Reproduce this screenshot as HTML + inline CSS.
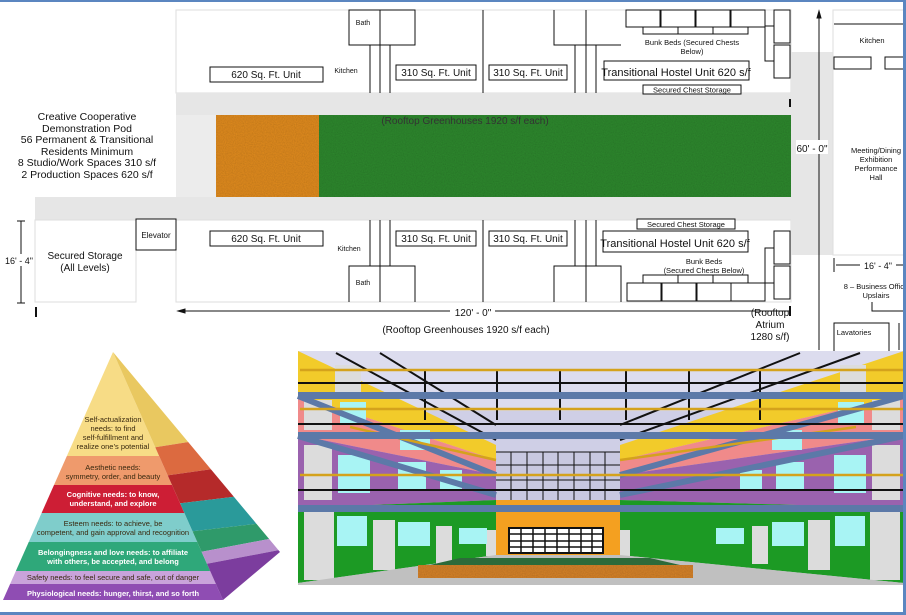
<!DOCTYPE html>
<html><head><meta charset="utf-8"><style>
html,body{margin:0;padding:0;background:#fff;}
svg{display:block;font-family:"Liberation Sans",sans-serif;}
</style></head><body>
<svg width="906" height="615" viewBox="0 0 906 615" xmlns="http://www.w3.org/2000/svg">
<defs>
<filter id="grain" x="0" y="0" width="100%" height="100%"><feTurbulence type="fractalNoise" baseFrequency="0.9" numOctaves="1" seed="3"/><feColorMatrix type="matrix" values="0 0 0 0 0  0 0 0 0 0  0 0 0 0 0  0 0 0 0.35 0"/><feComposite in2="SourceGraphic" operator="in"/><feBlend in="SourceGraphic" mode="multiply"/></filter>
<clipPath id="front"><polygon points="113,352 3,600 223,600"/></clipPath>
<clipPath id="side"><polygon points="113,352 223,600 280,552"/></clipPath>
</defs>
<rect width="906" height="615" fill="#fff"/>

<!-- ===== FLOOR PLAN ===== -->
<g stroke="#111" fill="none" font-size="10">
  <rect x="176" y="10" width="615" height="83" fill="#fff" stroke="#ddd"/>
  <rect x="176" y="93" width="615" height="22" fill="#e6e6e6" stroke="none"/>
  <rect x="176" y="115" width="40" height="82" fill="#ececec" stroke="none"/>
  <rect x="216" y="115" width="103" height="82" fill="#e38d1e" stroke="none" filter="url(#grain)"/>
  <rect x="319" y="115" width="472" height="82" fill="#2f8a2f" stroke="none" filter="url(#grain)"/>
  <text x="465" y="124" font-size="10" fill="#333" stroke="none" text-anchor="middle">(Rooftop Greenhouses 1920 s/f each)</text>
  <rect x="35" y="197" width="756" height="23" fill="#e6e6e6" stroke="none"/>
  <rect x="176" y="220" width="615" height="82" fill="#fff" stroke="#ddd"/>
  <rect x="35" y="220" width="101" height="82" fill="#fff" stroke="#ddd"/>
  <rect x="136" y="219" width="40" height="31" fill="#fff" stroke-width="1"/>
  <text x="156" y="238" font-size="8" fill="#111" stroke="none" text-anchor="middle">Elevator</text>
  <text x="85" y="259" font-size="10" fill="#111" stroke="none" text-anchor="middle">Secured Storage</text>
  <text x="85" y="271" font-size="10" fill="#111" stroke="none" text-anchor="middle">(All Levels)</text>
  <line x1="21" y1="221" x2="21" y2="303"/><line x1="17" y1="221" x2="25" y2="221"/><line x1="17" y1="303" x2="25" y2="303"/>
  <rect x="6" y="254" width="28" height="12" fill="#fff" stroke="none"/>
  <text x="19" y="264" font-size="9" fill="#111" stroke="none" text-anchor="middle">16' - 4"</text>
  <line x1="36" y1="307" x2="36" y2="317" stroke-width="2"/>
  <g fill="#111" stroke="none" font-size="10.5" text-anchor="middle">
    <text x="87" y="120">Creative Cooperative</text>
    <text x="87" y="132">Demonstration Pod</text>
    <text x="87" y="143">56 Permanent &amp; Transitional</text>
    <text x="87" y="155">Residents Minimum</text>
    <text x="87" y="166">8 Studio/Work Spaces 310 s/f</text>
    <text x="87" y="178">2 Production Spaces 620 s/f</text>
  </g>
  <rect x="210" y="67" width="113" height="15" fill="#fff"/><text x="266" y="78" fill="#111" stroke="none" text-anchor="middle">620 Sq. Ft. Unit</text>
  <text x="346" y="73" font-size="7" fill="#111" stroke="none" text-anchor="middle">Kitchen</text>
  <rect x="349" y="10" width="66" height="35"/><line x1="380" y1="10" x2="380" y2="93"/><line x1="370" y1="45" x2="370" y2="93"/><line x1="390" y1="45" x2="390" y2="93"/>
  <text x="363" y="25" font-size="7" fill="#111" stroke="none" text-anchor="middle">Bath</text>
  <rect x="396" y="65" width="80" height="15" fill="#fff"/><text x="436" y="76" fill="#111" stroke="none" text-anchor="middle">310 Sq. Ft. Unit</text>
  <line x1="483" y1="10" x2="483" y2="93"/>
  <rect x="489" y="65" width="78" height="15" fill="#fff"/><text x="528" y="76" fill="#111" stroke="none" text-anchor="middle">310 Sq. Ft. Unit</text>
  <polyline points="554,10 554,45 621,45"/><line x1="575" y1="45" x2="575" y2="93"/><line x1="586" y1="10" x2="586" y2="93"/><line x1="596" y1="45" x2="596" y2="93"/>
  <rect x="626" y="10" width="34" height="17"/><rect x="661" y="10" width="34" height="17"/><rect x="696" y="10" width="34" height="17"/><rect x="731" y="10" width="34" height="17"/>
  <polyline points="643,27 643,34 748,34 748,27"/><line x1="678" y1="27" x2="678" y2="34"/><line x1="713" y1="27" x2="713" y2="34"/>
  <rect x="774" y="10" width="16" height="33"/><rect x="774" y="45" width="16" height="33"/>
  <polyline points="765,46 765,26 774,26"/><polyline points="765,46 765,61 774,61"/>
  <text x="692" y="45" font-size="7.5" fill="#111" stroke="none" text-anchor="middle">Bunk Beds (Secured Chests</text>
  <text x="692" y="54" font-size="7.5" fill="#111" stroke="none" text-anchor="middle">Below)</text>
  <rect x="604" y="61" width="145" height="19" fill="#fff"/><text x="676" y="76" font-size="11" fill="#111" stroke="none" text-anchor="middle">Transitional Hostel Unit 620 s/f</text>
  <rect x="643" y="85" width="98" height="9" fill="#fff"/><text x="692" y="92.5" font-size="7.5" fill="#111" stroke="none" text-anchor="middle">Secured Chest Storage</text>
  <line x1="790" y1="99" x2="790" y2="107" stroke-width="2"/>
  <rect x="210" y="231" width="113" height="15" fill="#fff"/><text x="266" y="242" fill="#111" stroke="none" text-anchor="middle">620 Sq. Ft. Unit</text>
  <text x="349" y="251" font-size="7" fill="#111" stroke="none" text-anchor="middle">Kitchen</text>
  <line x1="370" y1="220" x2="370" y2="266"/><line x1="380" y1="220" x2="380" y2="302"/><line x1="390" y1="220" x2="390" y2="266"/>
  <polyline points="349,302 349,266 415,266 415,302"/><text x="363" y="285" font-size="7" fill="#111" stroke="none" text-anchor="middle">Bath</text>
  <rect x="396" y="231" width="80" height="15" fill="#fff"/><text x="436" y="242" fill="#111" stroke="none" text-anchor="middle">310 Sq. Ft. Unit</text>
  <line x1="483" y1="220" x2="483" y2="302"/>
  <rect x="489" y="231" width="78" height="15" fill="#fff"/><text x="528" y="242" fill="#111" stroke="none" text-anchor="middle">310 Sq. Ft. Unit</text>
  <polyline points="554,302 554,266 621,266 621,302"/><line x1="575" y1="220" x2="575" y2="266"/><line x1="586" y1="220" x2="586" y2="302"/><line x1="596" y1="220" x2="596" y2="266"/>
  <rect x="637" y="219" width="98" height="10" fill="#fff"/><text x="686" y="227" font-size="7.5" fill="#111" stroke="none" text-anchor="middle">Secured Chest Storage</text>
  <rect x="603" y="231" width="145" height="21" fill="#fff"/><text x="675" y="247" font-size="11" fill="#111" stroke="none" text-anchor="middle">Transitional Hostel Unit 620 s/f</text>
  <text x="704" y="264" font-size="7.5" fill="#111" stroke="none" text-anchor="middle">Bunk Beds</text>
  <text x="704" y="273" font-size="7.5" fill="#111" stroke="none" text-anchor="middle">(Secured Chests Below)</text>
  <polyline points="643,283 643,275 748,275 748,283"/><line x1="678" y1="275" x2="678" y2="283"/><line x1="713" y1="275" x2="713" y2="283"/>
  <rect x="627" y="283" width="34" height="18"/><rect x="662" y="283" width="34" height="18"/><rect x="697" y="283" width="34" height="18"/><rect x="731" y="283" width="34" height="18"/>
  <rect x="774" y="231" width="16" height="33"/><rect x="774" y="266" width="16" height="33"/>
  <polyline points="765,270 765,248 774,248"/><polyline points="765,270 765,283 774,283"/>
  <line x1="182" y1="311" x2="790" y2="311"/><polygon points="178,311 185,309 185,313" fill="#111"/>
  <line x1="790" y1="306" x2="790" y2="316" stroke-width="2"/>
  <rect x="450" y="305" width="45" height="12" fill="#fff" stroke="none"/>
  <text x="473" y="316" font-size="10" fill="#111" stroke="none" text-anchor="middle">120' - 0"</text>
  <text x="466" y="333" font-size="10" fill="#111" stroke="none" text-anchor="middle">(Rooftop Greenhouses 1920 s/f each)</text>
  <text x="770" y="316" font-size="10" fill="#111" stroke="none" text-anchor="middle">(Rooftop</text>
  <text x="770" y="328" font-size="10" fill="#111" stroke="none" text-anchor="middle">Atrium</text>
  <text x="770" y="340" font-size="10" fill="#111" stroke="none" text-anchor="middle">1280 s/f)</text>
  <rect x="791" y="52" width="42" height="203" fill="#e6e6e6" stroke="none"/>
  <line x1="819" y1="14" x2="819" y2="350"/><polygon points="819,11 817,18 821,18" fill="#111"/>
  <rect x="796" y="140" width="32" height="14" fill="#fff" stroke="none"/>
  <text x="812" y="152" font-size="10" fill="#111" stroke="none" text-anchor="middle">60' - 0"</text>
  <rect x="833" y="10" width="72" height="245" fill="#fff" stroke="#ddd"/>
  <line x1="834" y1="24" x2="905" y2="24"/>
  <text x="872" y="43" font-size="7.5" fill="#111" stroke="none" text-anchor="middle">Kitchen</text>
  <rect x="834" y="57" width="37" height="12"/><rect x="885" y="57" width="25" height="12"/>
  <g fill="#111" stroke="none" font-size="7.5" text-anchor="middle">
    <text x="876" y="153">Meeting/Dining</text><text x="876" y="162">Exhibition</text><text x="876" y="171">Performance</text><text x="876" y="180">Hall</text>
    <text x="878" y="269" font-size="9">16' - 4"</text>
    <text x="876" y="289">8 – Business Office</text><text x="876" y="298">Upslairs</text>
    <text x="854" y="335">Lavatories</text>
  </g>
  <line x1="834" y1="258" x2="834" y2="272"/><line x1="836" y1="265" x2="860" y2="265"/><line x1="896" y1="265" x2="905" y2="265"/>
  <polyline points="872,302 872,311 905,311"/>
  <rect x="834" y="323" width="55" height="30"/><line x1="899" y1="323" x2="899" y2="350"/>
</g>

<!-- ===== PYRAMID ===== -->
<g>
  <g clip-path="url(#front)">
    <rect x="0" y="350" width="230" height="106" fill="#f7dc86"/>
    <rect x="0" y="456" width="230" height="29" fill="#ef9a6c"/>
    <rect x="0" y="485" width="230" height="28" fill="#cd1e35"/>
    <rect x="0" y="513" width="230" height="29" fill="#7fcdcb"/>
    <rect x="0" y="542" width="230" height="29" fill="#2fa87a"/>
    <rect x="0" y="571" width="230" height="13" fill="#c9a3db"/>
    <rect x="0" y="584" width="230" height="18" fill="#8f4db3"/>
  </g>
  <g clip-path="url(#side)">
    <polygon points="100,340 290,340 290,426 100,456" fill="#e9c860"/>
    <polygon points="100,456 290,426 290,458 100,485" fill="#dc6a40"/>
    <polygon points="100,485 290,458 290,490 100,513" fill="#b52a2a"/>
    <polygon points="100,513 290,490 290,520 100,542" fill="#2a9a9a"/>
    <polygon points="100,542 290,520 290,535 100,571" fill="#2f9a6a"/>
    <polygon points="100,571 290,535 290,548 100,584" fill="#b890cc"/>
    <polygon points="100,584 290,548 290,610 100,610" fill="#7c3d9e"/>
  </g>
  <g font-size="7.5" text-anchor="middle" fill="#3a2a10">
    <text x="113" y="422">Self-actualization</text><text x="113" y="431">needs: to find</text><text x="113" y="440">self-fulfillment and</text><text x="113" y="449">realize one’s potential</text>
    <text x="113" y="470">Aesthetic needs:</text><text x="113" y="479">symmetry, order, and beauty</text>
    <text x="113" y="497" fill="#fff" font-weight="bold">Cognitive needs: to know,</text><text x="113" y="506" fill="#fff" font-weight="bold">understand, and explore</text>
    <text x="113" y="526">Esteem needs: to achieve, be</text><text x="113" y="535">competent, and gain approval and recognition</text>
    <text x="113" y="555" fill="#fff" font-weight="bold">Belongingness and love needs: to affiliate</text><text x="113" y="564" fill="#fff" font-weight="bold">with others, be accepted, and belong</text>
    <text x="113" y="580">Safety needs: to feel secure and safe, out of danger</text>
    <text x="113" y="596" fill="#fff" font-weight="bold">Physiological needs: hunger, thirst, and so forth</text>
  </g>
</g>

<!-- ===== 3D RENDER ===== -->
<g>
  <rect x="298" y="351" width="606" height="234" fill="#cfcfe6"/>
  <rect x="298" y="351" width="606" height="60" fill="#dcdcee"/>
  <polygon points="298,351 496,445 496,460 298,395" fill="#f2cb2a"/>
  <polygon points="298,395 496,460 496,475 298,435" fill="#f08a8a"/>
  <polygon points="298,435 496,475 496,500 298,508" fill="#9a62ae"/>
  <polygon points="298,508 496,500 496,555 298,583" fill="#1c9a24"/>
  <polygon points="904,351 620,445 620,460 904,395" fill="#f2cb2a"/>
  <polygon points="904,395 620,460 620,475 904,435" fill="#f08a8a"/>
  <polygon points="904,435 620,475 620,500 904,508" fill="#9a62ae"/>
  <polygon points="904,508 620,500 620,555 904,583" fill="#1c9a24"/>
  <g fill="#dcdcdc"><rect x="304" y="512" width="30" height="68"/><rect x="373" y="520" width="22" height="50"/><rect x="436" y="526" width="16" height="38"/><rect x="486" y="530" width="10" height="26"/>
    <rect x="304" y="445" width="28" height="55"/><rect x="304" y="400" width="28" height="30"/><rect x="335" y="365" width="26" height="28"/>
    <rect x="870" y="512" width="30" height="68"/><rect x="808" y="520" width="22" height="50"/><rect x="752" y="526" width="16" height="38"/><rect x="620" y="530" width="10" height="26"/>
    <rect x="872" y="445" width="28" height="55"/><rect x="872" y="400" width="28" height="30"/><rect x="840" y="365" width="26" height="28"/></g>
  <g fill="#a8f4f4"><rect x="337" y="516" width="30" height="30"/><rect x="398" y="522" width="32" height="24"/><rect x="459" y="528" width="28" height="16"/>
    <rect x="338" y="455" width="32" height="38"/><rect x="398" y="462" width="28" height="28"/><rect x="340" y="402" width="26" height="22"/><rect x="400" y="430" width="30" height="20"/><rect x="440" y="470" width="22" height="20"/>
    <rect x="835" y="516" width="30" height="30"/><rect x="772" y="522" width="32" height="24"/><rect x="716" y="528" width="28" height="16"/>
    <rect x="834" y="455" width="32" height="38"/><rect x="776" y="462" width="28" height="28"/><rect x="838" y="402" width="26" height="22"/><rect x="772" y="430" width="30" height="20"/><rect x="740" y="470" width="22" height="20"/></g>
  <rect x="496" y="452" width="124" height="48" fill="#c8c8e0"/>
  <g stroke="#111" stroke-width="1"><line x1="496" y1="452" x2="620" y2="452"/><line x1="496" y1="465" x2="620" y2="465"/><line x1="496" y1="480" x2="620" y2="480"/>
    <line x1="511" y1="452" x2="511" y2="500"/><line x1="527" y1="452" x2="527" y2="500"/><line x1="543" y1="452" x2="543" y2="500"/><line x1="558" y1="452" x2="558" y2="500"/><line x1="574" y1="452" x2="574" y2="500"/><line x1="590" y1="452" x2="590" y2="500"/><line x1="605" y1="452" x2="605" y2="500"/></g>
  <rect x="496" y="500" width="124" height="55" fill="#f4a020"/>
  <rect x="509" y="528" width="94" height="25" fill="#fff" stroke="#111" stroke-width="2"/>
  <g stroke="#111" stroke-width="1.5"><line x1="509" y1="534" x2="603" y2="534"/><line x1="509" y1="541" x2="603" y2="541"/><line x1="509" y1="547" x2="603" y2="547"/>
    <line x1="521" y1="528" x2="521" y2="553"/><line x1="533" y1="528" x2="533" y2="553"/><line x1="545" y1="528" x2="545" y2="553"/><line x1="557" y1="528" x2="557" y2="553"/><line x1="569" y1="528" x2="569" y2="553"/><line x1="581" y1="528" x2="581" y2="553"/><line x1="592" y1="528" x2="592" y2="553"/></g>
  <polygon points="298,583 496,555 620,555 904,583 904,585 298,585" fill="#c0c0c0"/>
  <polygon points="460,558 650,558 680,565 430,565" fill="#2d6a3a"/>
  <rect x="418" y="565" width="275" height="13" fill="#d8842a" filter="url(#grain)"/>
  <g stroke="#5c79a8" stroke-width="6">
    <line x1="298" y1="396" x2="496" y2="475"/><line x1="904" y1="396" x2="620" y2="475"/>
    <line x1="298" y1="436" x2="496" y2="495"/><line x1="904" y1="436" x2="620" y2="495"/>
  </g>
  <g stroke="#111" stroke-width="2">
    <line x1="298" y1="383" x2="904" y2="383"/><line x1="298" y1="424" x2="904" y2="424"/><line x1="298" y1="490" x2="904" y2="490"/>
    <line x1="336" y1="353" x2="496" y2="440"/><line x1="380" y1="353" x2="496" y2="425"/><line x1="860" y1="353" x2="620" y2="440"/><line x1="800" y1="353" x2="620" y2="425"/>
    <line x1="425" y1="370" x2="425" y2="420"/><line x1="497" y1="370" x2="497" y2="420"/><line x1="560" y1="370" x2="560" y2="420"/><line x1="626" y1="370" x2="626" y2="420"/><line x1="689" y1="370" x2="689" y2="420"/><line x1="760" y1="370" x2="760" y2="420"/>
  </g>
  <g stroke="#d4a21c" stroke-width="2.5">
    <line x1="300" y1="370" x2="904" y2="370"/><line x1="300" y1="409" x2="904" y2="409"/><line x1="300" y1="475" x2="904" y2="475"/>
    <line x1="350" y1="427" x2="496" y2="460"/><line x1="856" y1="427" x2="620" y2="460"/>
  </g>
  <g fill="#5c79a8"><rect x="298" y="392" width="606" height="7"/><rect x="298" y="432" width="606" height="7"/><rect x="298" y="505" width="606" height="7"/></g>
</g>

<rect x="0" y="0" width="906" height="2" fill="#5b86c0"/>
<rect x="903" y="0" width="3" height="615" fill="#5b86c0"/>
<rect x="0" y="612" width="906" height="3" fill="#5b86c0"/>
</svg>
</body></html>
